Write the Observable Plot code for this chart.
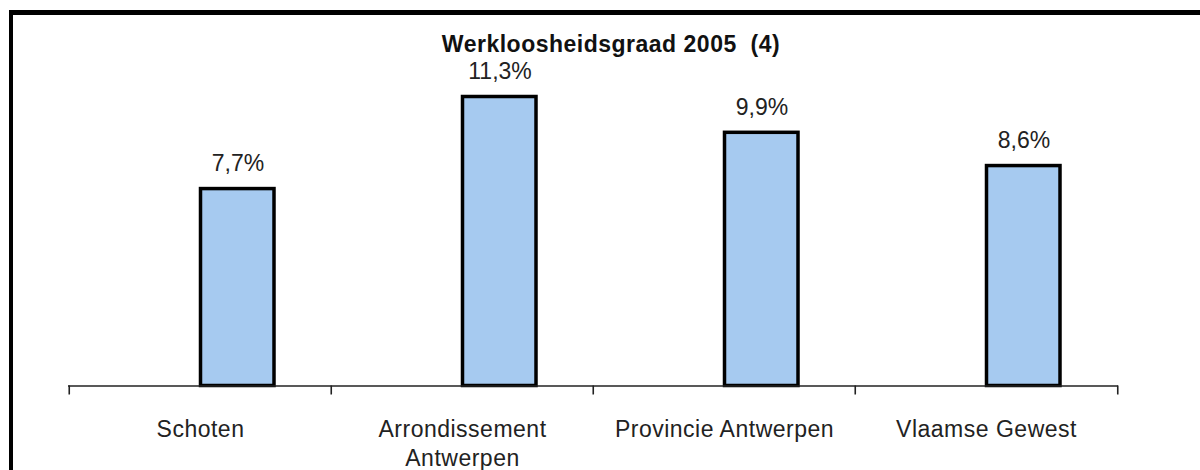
<!DOCTYPE html>
<html>
<head>
<meta charset="utf-8">
<script src="https://cdn.jsdelivr.net/npm/d3@7"></script>
<script src="https://cdn.jsdelivr.net/npm/@observablehq/plot@0.6"></script>
<style>
  html, body { margin: 0; padding: 0; background: #fff; width: 1200px; height: 470px; overflow: hidden; }
  #wrap { position: relative; width: 1200px; height: 470px; }
  #border { position: absolute; left: 9px; top: 10px; width: 1300px; height: 600px;
            border-left: 4px solid #000; border-top: 5px solid #000; box-sizing: border-box; }
  #title { position: absolute; left: 0; width: 1222px; top: 30px; text-align: center;
           font-family: "Liberation Sans", Arial, sans-serif; font-weight: bold; font-size: 23px;
           letter-spacing: 0.5px; color: #111; line-height: 28px; }
  #chart { position: absolute; left: 0; top: 0; }
  #chart svg { font-family: "Liberation Sans", Arial, sans-serif; }
</style>
</head>
<body>
<div id="wrap">
  <div id="border"></div>
  <div id="chart"></div>
  <div id="title"></div>
</div>
<script>
const title = "Werkloosheidsgraad 2005\u00a0\u00a0(4)";
const categories = ["Schoten", "Arrondissement\nAntwerpen", "Provincie Antwerpen", "Vlaamse Gewest"];
const values = [7.7, 11.3, 9.9, 8.6];
const valueLabels = ["7,7%", "11,3%", "9,9%", "8,6%"];

const data = categories.map((c, i) => ({category: c, value: values[i], label: valueLabels[i]}));

document.getElementById("title").textContent = title;

const chart = Plot.plot({
  width: 1200,
  height: 470,
  marginLeft: 68,
  marginRight: 82,
  marginTop: 27.45,
  marginBottom: 84.5,
  style: {fontFamily: "'Liberation Sans', Arial, sans-serif", background: "transparent"},
  x: {domain: categories, padding: 0, label: null},
  y: {domain: [0, 14], axis: null},
  marks: [
    Plot.barY(data, {
      x: "category", y: "value",
      fill: "#A6CAF0", stroke: "#000", strokeWidth: 3.5,
      insetLeft: 131.5, insetRight: 57
    }),
    Plot.text(data, {
      x: "category", y: "value", text: "label",
      dx: 37.5, dy: -25.5, lineAnchor: "middle",
      fontSize: 23, fill: "#222", style: "letter-spacing:0.5px"
    }),
    Plot.ruleY([0], {stroke: "#222", strokeWidth: 1.6}),
    Plot.axisX({
      tickSize: 0, tickPadding: 30, fontSize: 23, lineHeight: 1.28,
      fill: "#222", label: null
    }),
    Plot.axisX({
      tickSize: 9, dx: -131.25, tickFormat: () => "", stroke: "#222", strokeWidth: 1.6, label: null
    }),
    Plot.axisX({
      ticks: [categories[categories.length - 1]],
      tickSize: 9, dx: 131.25, tickFormat: () => "", stroke: "#222", strokeWidth: 1.6, label: null
    })
  ]
});
chart.querySelectorAll("text").forEach(t => {
  if (!t.closest("g[aria-label='text']")) t.style.letterSpacing = "0.5px";
});
document.getElementById("chart").appendChild(chart);
</script>
</body>
</html>
